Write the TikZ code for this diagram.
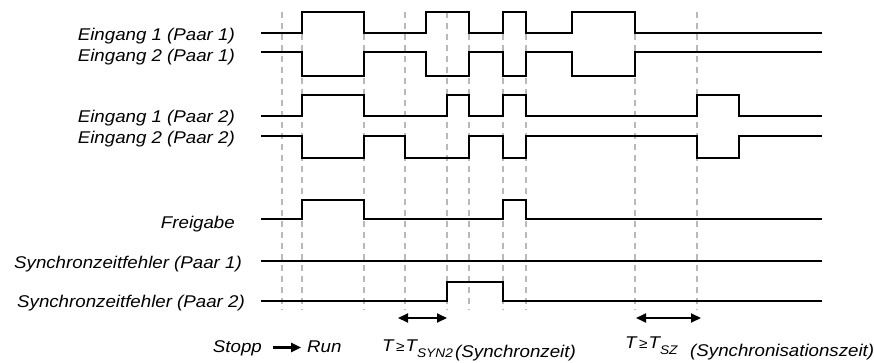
\documentclass[tikz,border=0pt]{standalone}
\usepackage{fontspec}
\setmainfont{Liberation Sans}[FakeStretch=1.1]
\usetikzlibrary{arrows.meta}
\begin{document}
\begin{tikzpicture}[x=1pt,y=-1pt,
  sig/.style={line width=2.8pt,line join=miter,line cap=butt},
  grid/.style={gray!55,line width=1.2pt,dash pattern=on 6pt off 5pt},
  lbl/.style={anchor=base east,inner sep=0pt,font=\fontsize{17}{17}\selectfont\itshape},
  txt/.style={anchor=base west,inner sep=0pt,font=\fontsize{17}{17}\selectfont\itshape},
  dbl/.style={line width=2pt,{Triangle[length=10pt,width=9pt]}-{Triangle[length=10pt,width=9pt]}},
  sarr/.style={line width=2.4pt,-{Triangle[length=10pt,width=9pt]}}]
\useasboundingbox (0,0) rectangle (874,363);
% time grid
\foreach \t in {282,302,364,405,447,469,503,526,635,697}
  \draw[grid] (\t,12) -- (\t,310);
% labels
\node[lbl] (e1p1) at (235,41) {Eingang 1 (Paar 1)};
\node[lbl] (e2p1) at (235,62) {Eingang 2 (Paar 1)};
\node[lbl] (e1p2) at (235,123) {Eingang 1 (Paar 2)};
\node[lbl] (e2p2) at (235,144) {Eingang 2 (Paar 2)};
\node[lbl] (frei) at (235,229) {Freigabe};
\node[lbl] (sz1) at (242,268) {Synchronzeitfehler (Paar 1)};
\node[lbl] (sz2) at (245,307) {Synchronzeitfehler (Paar 2)};
% waveforms
\draw[sig] (261,33) -| (302,12) -| (364,33) -| (426,12) -| (469,33) -| (503,12) -| (526,33) -| (572,12) -| (635,33) -- (822,33);
\draw[sig] (261,52) -| (302,76) -| (364,52) -| (426,76) -| (469,52) -| (503,76) -| (526,52) -| (572,76) -| (635,52) -- (822,52);
\draw[sig] (261,116) -| (302,95) -| (364,116) -| (447,95) -| (469,116) -| (503,95) -| (526,116) -| (697,95) -| (739,116) -- (822,116);
\draw[sig] (261,136) -| (302,158) -| (364,136) -| (405,158) -| (469,136) -| (503,158) -| (526,136) -| (697,158) -| (739,136) -- (822,136);
\draw[sig] (261,219) -| (302,200) -| (364,219) -| (503,200) -| (526,219) -- (822,219);
\draw[sig] (261,261) -- (822,261);
\draw[sig] (261,301) -| (447,282) -| (503,301) -- (822,301);
% bottom
\node[lbl] (stopp) at (262,352) {Stopp};
\node[txt] (run) at (307,352) {Run};
\coordinate (sa) at (273,347.5);
\coordinate (sb) at (301,347.5);
\draw[sarr] (sa) -- (sb);
\coordinate (a1) at (398,318);
\coordinate (a2) at (447,318);
\coordinate (b1) at (636,318);
\coordinate (b2) at (701,318);
\draw[dbl] (a1) -- (a2);
\draw[dbl] (b1) -- (b2);
\node[txt] (tsyn) at (382,351) {T\hspace{2.5pt}{\fontsize{14}{14}\selectfont ≥}\hspace{1pt}T\raisebox{-6pt}{\fontsize{12.5}{12.5}\selectfont SYN2}};
\node[txt] (synz) at (455,357) {(Synchronzeit)};
\node[txt] (tsz) at (625,348) {T\hspace{2.5pt}{\fontsize{14}{14}\selectfont ≥}\hspace{1pt}T\raisebox{-6pt}{\fontsize{12.5}{12.5}\selectfont SZ}};
\node[txt] (synsz) at (690,356) {(Synchronisationszeit)};
\end{tikzpicture}
\end{document}
